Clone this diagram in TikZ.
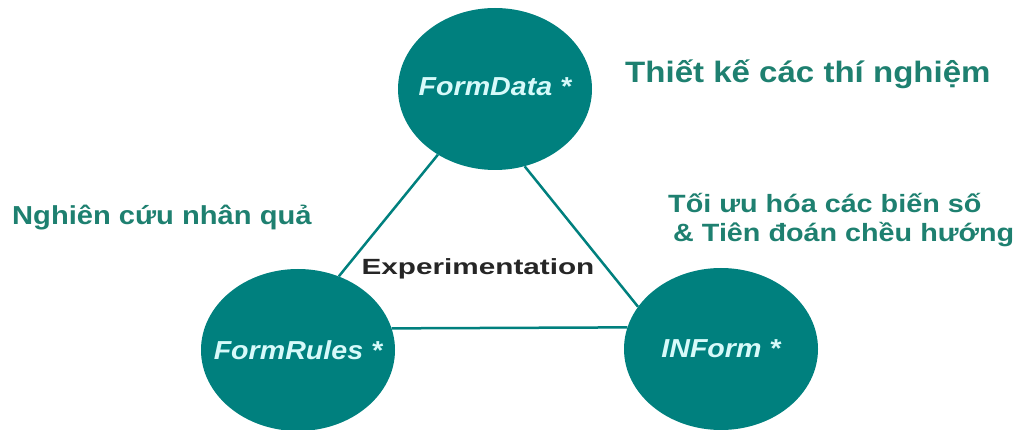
\documentclass[tikz,border=0pt]{standalone}
\usepackage{fontspec}
\setmainfont{Liberation Sans}
\newfontfamily\goalfont{Liberation Sans}[FakeStretch=1.12]
\newfontfamily\optimfont{Liberation Sans}[FakeStretch=1.15]
\newfontfamily\expfont{Liberation Sans}[FakeStretch=1.35]
\newfontfamily\formfont{Liberation Sans}[FakeStretch=1.1]
\usetikzlibrary{positioning,shapes.geometric}
\definecolor{tealfill}{RGB}{0,128,126}
\definecolor{tealtext}{RGB}{30,128,112}
\definecolor{nodetext}{RGB}{215,250,250}

\begin{document}
\begin{tikzpicture}[
        x=1pt, y=-1pt,
        form/.style={ellipse, fill=tealfill, minimum width=194pt, minimum height=162pt, inner sep=0pt,
            text=nodetext, font=\formfont\fontsize{26}{30}\selectfont\bfseries\itshape},
        goal/.style={anchor=base west, text=tealtext, inner sep=0pt},
        link/.style={draw=tealfill, line width=2.5pt}
    ]
        \useasboundingbox (0,0) rectangle (1026,430);

        % The three modules (text kept out of the ellipse size)
        \node[form] (data) at (495,89) {\makebox[0pt]{\raisebox{4pt}{FormData *}}};
        \node[form] (rules) at (298,350) {\makebox[0pt]{FormRules *}};
        \node[form] (inform) at (721,349) {\makebox[0pt]{INForm *}};

        % Triangle between them
        \draw[link] (data.229) -- (rules.61);
        \draw[link] (data.291) -- (inform.153);
        \draw[link] (rules.13) -- (inform.167);

        \node[anchor=base, inner sep=0pt, font=\expfont\fontsize{22}{26}\selectfont\bfseries, text=black!85] (exp) at (478,275) {Experimentation};

        % What each module is for
        \node[goal, font=\goalfont\fontsize{29.5}{34}\selectfont\bfseries] (design) at (625,83) {Thiết kế các thí nghiệm};
        \node[goal, font=\goalfont\fontsize{26}{30}\selectfont\bfseries] (cause) at (12,225) {Nghiên cứu nhân quả};
        \node[goal, font=\optimfont\fontsize{25}{29}\selectfont\bfseries] (optim) at (668,213) {Tối ưu hóa các biến số};
        \node[goal, font=\optimfont\fontsize{25}{29}\selectfont\bfseries] (predict) at (673,242) {\& Tiên đoán chều hướng};
    \end{tikzpicture}
\end{document}
